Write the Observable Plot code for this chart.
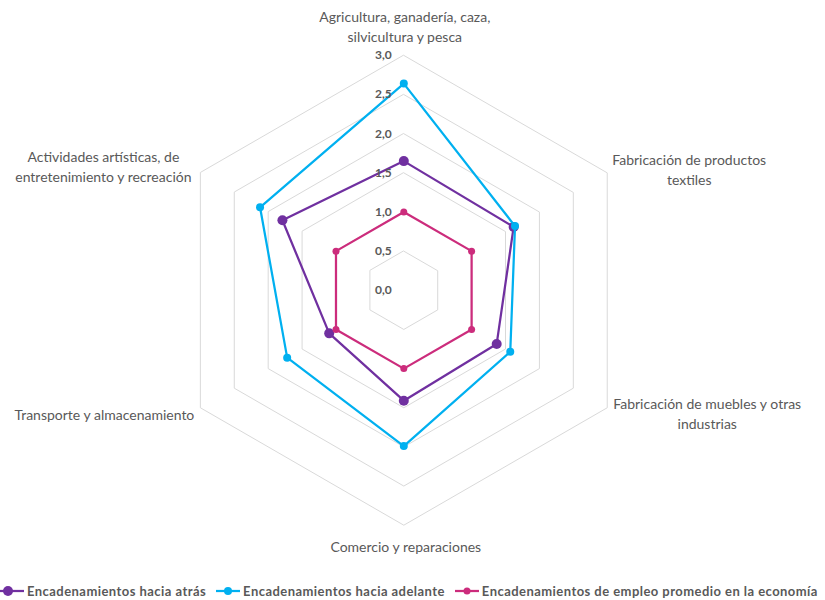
<!DOCTYPE html>
<html>
<head>
<meta charset="utf-8">
<script src="https://cdn.jsdelivr.net/npm/d3@7"></script>
<script src="https://cdn.jsdelivr.net/npm/@observablehq/plot@0.6"></script>
<style>
  html, body { margin: 0; padding: 0; background: #fff; }
  body { width: 825px; height: 600px; overflow: hidden; font-family: Lato, "Open Sans", sans-serif; }
  #legend { position: absolute; left: 0; top: 581px; height: 20px; display: flex; align-items: center; font-weight: bold; font-size: 13px; letter-spacing: 0.45px; color: #595959; white-space: nowrap; }
  .item { display: flex; align-items: center; margin-right: 10px; }
  .item svg { margin-right: 3px; }
</style>
</head>
<body>
<div id="chart"></div>
<div id="legend"></div>
<script>
// ---- data ----
const categories = [
  "Agricultura, ganadería, caza,\nsilvicultura y pesca",
  "Fabricación de productos\ntextiles",
  "Fabricación de muebles y otras\nindustrias",
  "Comercio y reparaciones",
  "Transporte y almacenamiento",
  "Actividades artísticas, de\nentretenimiento y recreación"
];
const seriesNames = [
  "Encadenamientos hacia atrás",
  "Encadenamientos hacia adelante",
  "Encadenamientos de empleo promedio en la economía"
];
const haciaAtras = [1.65, 1.62, 1.37, 1.41, 1.10, 1.79];
const haciaAdelante = [2.64, 1.64, 1.57, 1.99, 1.72, 2.12];
const empleoPromedio = [1.0, 1.0, 1.0, 1.0, 1.0, 1.0];
const tickValues = [0, 0.5, 1.0, 1.5, 2.0, 2.5, 3.0];
const tickLabels = ["0,0", "0,5", "1,0", "1,5", "2,0", "2,5", "3,0"];

// ---- styling / layout (not data) ----
const colors = ["#7030A0", "#00B0F0", "#CC2C7C"];
const markerR = [5, 4, 3.5];
const labelOffsets = [[1, -29.5], [82, -4], [100, 5], [2, 20.5], [-96, 6], [-97, -7]];

const W = 825, H = 578;
const unit = 78.3;           // px per value unit
const cx = 403.3, cy = 289.8; // centre in px
const n = categories.length;
const ang = i => (i * 2 * Math.PI) / n;
const px = (v, i) => v * Math.sin(ang(i));
const py = (v, i) => v * Math.cos(ang(i));

const seriesValues = [haciaAtras, haciaAdelante, empleoPromedio];
const points = [];
seriesValues.forEach((vals, s) => vals.forEach((v, i) => points.push({s, i, v, x: px(v, i), y: py(v, i)})));

const maxTick = tickValues[tickValues.length - 1];
const rings = [];
tickValues.filter(t => t > 0).forEach(t => categories.forEach((c, i) => rings.push({t, x: px(t, i), y: py(t, i)})));

const labels = categories.map((c, i) => ({c, i, x: px(maxTick, i), y: py(maxTick, i)}));
const ticksData = tickValues.map((t, k) => ({t, label: tickLabels[k], x: 0, y: t}));

const marks = [
  Plot.line(rings, {x: "x", y: "y", z: "t", curve: "linear-closed", stroke: "#d9d9d9", strokeWidth: 1})
];
[0, 1, 2].forEach(s => {
  const d = points.filter(p => p.s === s);
  marks.push(Plot.line(d, {x: "x", y: "y", curve: "linear-closed", stroke: colors[s], strokeWidth: 2.25}));
  marks.push(Plot.dot(d, {x: "x", y: "y", r: markerR[s], fill: colors[s], stroke: "none"}));
});
marks.push(Plot.text(ticksData, {x: "x", y: "y", text: "label", dx: -12, textAnchor: "end", fontWeight: "bold", fontSize: 12, fill: "#595959"}));
labels.forEach(l => {
  marks.push(Plot.text([l], {x: "x", y: "y", text: "c", dx: labelOffsets[l.i][0], dy: labelOffsets[l.i][1], textAnchor: "middle", lineHeight: 1.4, fontSize: 14, fill: "#595959"}));
});

const chart = Plot.plot({
  width: W,
  height: H,
  margin: 0,
  x: {domain: [-cx / unit, (W - cx) / unit], axis: null},
  y: {domain: [-(H - cy) / unit, cy / unit], axis: null},
  style: {fontFamily: "Lato, 'Open Sans', sans-serif", background: "#fff"},
  marks
});
document.getElementById("chart").appendChild(chart);

// legend
const legend = document.getElementById("legend");
seriesNames.forEach((name, s) => {
  const item = document.createElement("div");
  item.className = "item";
  item.innerHTML = `<svg width="24" height="12"><line x1="0" y1="6" x2="24" y2="6" stroke="${colors[s]}" stroke-width="2.25"/><circle cx="${s === 0 ? 8 : 12}" cy="6" r="${markerR[s]}" fill="${colors[s]}"/></svg><span>${name}</span>`;
  legend.appendChild(item);
});
</script>
</body>
</html>
